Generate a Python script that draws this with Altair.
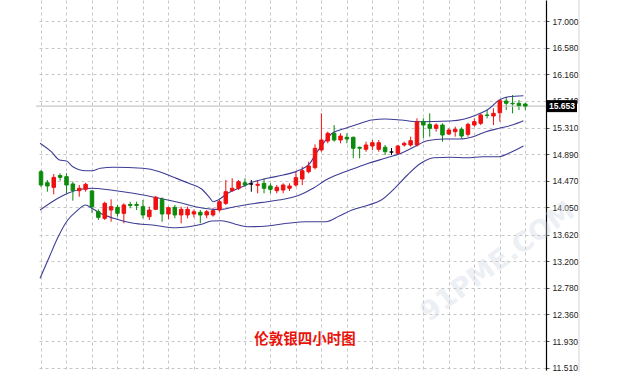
import altair as alt
import pandas as pd

# ---- candle data (4-hour bars) ----
opens = [14.615, 14.441, 14.368, 14.556, 14.537, 14.421, 14.315, 14.337, 14.310, 13.982,
         13.878, 14.009, 14.052, 13.957, 14.097, 14.097, 14.062, 13.904, 14.020, 14.179,
         13.946, 14.052, 13.931, 13.931, 13.946, 13.973, 13.931, 13.931, 14.009, 14.115,
         14.315, 14.353, 14.441, 14.421, 14.400, 14.432, 14.389, 14.315, 14.326, 14.353,
         14.405, 14.500, 14.615, 14.679, 14.959, 15.101, 15.223, 15.117, 15.160, 15.160,
         15.002, 14.970, 15.022, 14.970, 15.002, 14.927, 14.907, 15.038, 15.038, 15.038,
         15.407, 15.365, 15.302, 15.354, 15.212, 15.249, 15.286, 15.207, 15.354, 15.381,
         15.513, 15.497, 15.549, 15.734, 15.698, 15.698, 15.687]
highs = [14.642, 14.484, 14.579, 14.590, 14.590, 14.457, 14.405, 14.441, 14.326, 14.020,
         14.141, 14.179, 14.089, 14.115, 14.141, 14.141, 14.168, 14.062, 14.231, 14.210,
         14.062, 14.089, 14.062, 14.062, 14.020, 14.009, 14.009, 14.036, 14.168, 14.484,
         14.511, 14.484, 14.511, 14.484, 14.484, 14.511, 14.432, 14.405, 14.432, 14.432,
         14.615, 14.695, 14.774, 15.049, 15.539, 15.249, 15.354, 15.223, 15.223, 15.170,
         15.012, 15.090, 15.117, 15.117, 15.038, 14.990, 15.038, 15.090, 15.170, 15.460,
         15.460, 15.539, 15.381, 15.381, 15.302, 15.328, 15.318, 15.391, 15.460, 15.539,
         15.592, 15.619, 15.750, 15.802, 15.829, 15.750, 15.708]
lows = [14.373, 14.299, 14.258, 14.473, 14.274, 14.157, 14.220, 14.299, 13.967, 13.851,
        13.851, 13.824, 13.904, 13.799, 14.036, 14.009, 13.878, 13.851, 14.009, 13.824,
        13.862, 13.878, 13.799, 13.878, 13.893, 13.799, 13.878, 13.904, 13.982, 14.089,
        14.299, 14.326, 14.379, 14.299, 14.274, 14.274, 14.274, 14.274, 14.274, 14.310,
        14.379, 14.405, 14.590, 14.653, 14.932, 15.065, 15.090, 15.065, 15.065, 14.828,
        14.828, 14.932, 14.959, 14.932, 14.880, 14.880, 14.880, 15.012, 15.012, 15.012,
        15.144, 15.170, 15.249, 15.090, 15.196, 15.170, 15.144, 15.170, 15.328, 15.354,
        15.460, 15.354, 15.407, 15.592, 15.539, 15.592, 15.592]
closes = [14.405, 14.389, 14.526, 14.526, 14.405, 14.315, 14.353, 14.416, 14.062, 13.893,
          14.115, 14.062, 13.957, 14.089, 14.081, 14.081, 13.931, 14.009, 14.210, 13.946,
          14.046, 13.931, 14.020, 14.020, 13.982, 13.931, 13.982, 13.999, 14.141, 14.299,
          14.353, 14.457, 14.405, 14.421, 14.416, 14.353, 14.337, 14.368, 14.405, 14.389,
          14.521, 14.631, 14.706, 14.986, 15.117, 15.223, 15.117, 15.180, 15.133, 14.986,
          14.986, 15.038, 15.074, 15.074, 14.932, 14.927, 15.022, 15.065, 15.106, 15.407,
          15.354, 15.302, 15.354, 15.196, 15.275, 15.286, 15.180, 15.365, 15.407, 15.513,
          15.505, 15.539, 15.739, 15.698, 15.690, 15.660, 15.653]

# ---- Bollinger bands (bar position, price) ----
upper_pos = [-0.15, 1.6, 2.9, 4.0, 5.0, 7.0, 8.0, 9.3, 11.4, 16.0, 18.6, 20.6, 23.2, 25.2,
             26.5, 27.0, 27.8, 29.3, 31.4, 33.4, 35.5, 38.0, 40.6, 42.2, 43.2, 44.5, 45.7,
             47.8, 49.8, 51.9, 54.0, 56.5, 59.1, 64.2, 66.3, 68.3, 70.4, 71.9, 73.4, 75.7]
upper_val = [15.065, 14.932, 14.801, 14.785, 14.695, 14.631, 14.631, 14.669, 14.685, 14.669,
             14.615, 14.536, 14.432, 14.342, 14.199, 14.141, 14.168, 14.274, 14.369, 14.457,
             14.511, 14.563, 14.642, 14.748, 14.907, 15.090, 15.223, 15.302, 15.370, 15.433,
             15.449, 15.433, 15.407, 15.418, 15.445, 15.513, 15.619, 15.750, 15.802, 15.818]
mid_pos = [-0.15, 2.2, 4.2, 6.3, 8.0, 10.9, 14.5, 18.6, 22.2, 24.7, 27.3, 28.3, 30.4, 32.9,
           35.5, 38.0, 40.6, 42.7, 44.7, 46.8, 48.8, 51.4, 54.0, 56.5, 58.6, 60.6, 63.2,
           65.7, 67.8, 69.8, 71.9, 73.95, 75.7]
mid_val = [14.009, 14.168, 14.274, 14.337, 14.353, 14.326, 14.274, 14.195, 14.115, 14.052,
           14.020, 14.020, 14.062, 14.104, 14.141, 14.179, 14.247, 14.353, 14.484, 14.579,
           14.653, 14.748, 14.828, 14.907, 15.011, 15.106, 15.133, 15.133, 15.169, 15.248,
           15.302, 15.354, 15.422]
lower_pos = [-0.15, 1.1, 2.7, 4.2, 5.5, 7.0, 8.0, 9.3, 11.4, 14.5, 17.5, 21.1, 23.2, 25.2,
             26.8, 28.3, 30.4, 32.4, 35.5, 38.6, 41.6, 44.7, 46.8, 48.8, 51.4, 53.4, 55.5,
             57.5, 59.6, 61.6, 64.2, 66.8, 69.3, 71.9, 73.4, 75.7]
lower_val = [12.929, 13.218, 13.587, 13.851, 13.983, 14.089, 14.036, 13.957, 13.878, 13.799,
             13.772, 13.729, 13.745, 13.783, 13.835, 13.840, 13.788, 13.745, 13.756, 13.799,
             13.824, 13.824, 13.914, 14.009, 14.089, 14.168, 14.353, 14.563, 14.748, 14.837,
             14.843, 14.837, 14.853, 14.853, 14.907, 15.022]

y_ticks = [17.000, 16.580, 16.160, 15.740, 15.310, 14.890, 14.470, 14.050,
           13.620, 13.200, 12.780, 12.360, 11.930, 11.510]
grid_bars = list(range(0, 77, 4))
last_price = 15.653
title_text = "伦敦银四小时图"
watermark_text = "91PME.COM"

# ---- tables ----
dirs = []
for o, c in zip(opens, closes):
    dirs.append("up" if c > o else ("down" if c < o else "flat"))
candles = pd.DataFrame({"i": list(range(len(opens))), "open": opens, "high": highs,
                        "low": lows, "close": closes, "dir": dirs})
bands = pd.concat([
    pd.DataFrame({"i": upper_pos, "v": upper_val, "band": "upper"}),
    pd.DataFrame({"i": mid_pos, "v": mid_val, "band": "mid"}),
    pd.DataFrame({"i": lower_pos, "v": lower_val, "band": "lower"}),
])
price_df = pd.DataFrame({"p": [last_price], "label": [f"{last_price:.3f}"]})

W, H = 510, 370
xs = alt.Scale(domain=[0, 78.46], nice=False, zero=False)
ys = alt.Scale(domain=[17.0 - (H - 21) / 63.2, 17.0 + 21 / 63.2], nice=False, zero=False)
cs = alt.Scale(domain=["up", "down", "flat"], range=["#f01010", "#0c8a0c", "#000000"])
grid_col = "#c6c6c6"

x_axis = alt.Axis(values=grid_bars, grid=True, labels=False, ticks=False, domain=False,
                  title=None, gridDash=[3, 3], gridColor=grid_col, orient="bottom")
y_axis = alt.Axis(orient="right", values=y_ticks, format=".3f", grid=True, gridDash=[3, 3],
                  gridColor=grid_col, domainColor="#000000", domainWidth=1.2,
                  tickColor="#555555", tickSize=3, labelFont="Liberation Sans",
                  labelFontSize=8.5, labelColor="#222222", labelPadding=3, title=None)

wicks = alt.Chart(candles).mark_rule(strokeWidth=1).encode(
    x=alt.X("i:Q", scale=xs, axis=x_axis),
    y=alt.Y("low:Q", scale=ys, axis=y_axis),
    y2="high:Q",
    color=alt.Color("dir:N", scale=cs, legend=None),
)

price_line = alt.Chart(price_df).mark_rule(color="#c8c8c8", strokeWidth=1.2).encode(
    y=alt.Y("p:Q", scale=ys, axis=y_axis), x=alt.value(0), x2=alt.value(W))

band_layer = alt.Chart(bands).mark_line(color="#3d3d96", strokeWidth=1.1,
                                        interpolate="monotone").encode(
    x=alt.X("i:Q", scale=xs, axis=x_axis),
    y=alt.Y("v:Q", scale=ys, axis=y_axis),
    detail="band:N",
)

bodies = alt.Chart(candles).mark_bar(size=3.5, strokeWidth=1).encode(
    x=alt.X("i:Q", scale=xs, axis=x_axis),
    y=alt.Y("open:Q", scale=ys, axis=y_axis),
    y2="close:Q",
    color=alt.Color("dir:N", scale=cs, legend=None),
    stroke=alt.Stroke("dir:N", scale=cs, legend=None),
)

border = alt.Chart(price_df).mark_rule(color="#d4d4d4", strokeWidth=1).encode(
    x=alt.value(W + 33), y=alt.value(0), y2=alt.value(H + 2))

price_box = alt.Chart(price_df).mark_rule(color="#000000", strokeWidth=12, strokeCap="butt").encode(
    y=alt.Y("p:Q", scale=ys, axis=y_axis), x=alt.value(W + 1), x2=alt.value(W + 31))
price_text = alt.Chart(price_df).mark_text(color="#ffffff", fontSize=8.5, font="Liberation Sans",
                                           fontWeight="bold", align="center", baseline="middle").encode(
    y=alt.Y("p:Q", scale=ys, axis=y_axis), x=alt.value(W + 16), text="label:N")

title_layer = alt.Chart(price_df).mark_text(text=title_text, color="#e8140c", fontSize=14.5,
                                            fontWeight="bold", font="Noto Sans CJK SC",
                                            align="center", baseline="middle").encode(
    x=alt.value(269), y=alt.value(340))

watermark = alt.Chart(price_df).mark_text(text=watermark_text, color="#c9d2de", opacity=0.35,
                                          fontSize=27, fontWeight="bold", font="DejaVu Sans",
                                          angle=324, align="center", baseline="middle").encode(
    x=alt.value(462), y=alt.value(262))

chart = alt.layer(
    wicks, price_line, band_layer, bodies, watermark, border, price_box, price_text, title_layer
).properties(
    width=W, height=H,
    autosize=alt.AutoSizeParams(type="none"),
    padding={"left": 36, "top": 0, "right": 74, "bottom": 20},
).configure_view(stroke=None)

chart.save("out.html", embed_options={"renderer": "svg", "actions": False})
